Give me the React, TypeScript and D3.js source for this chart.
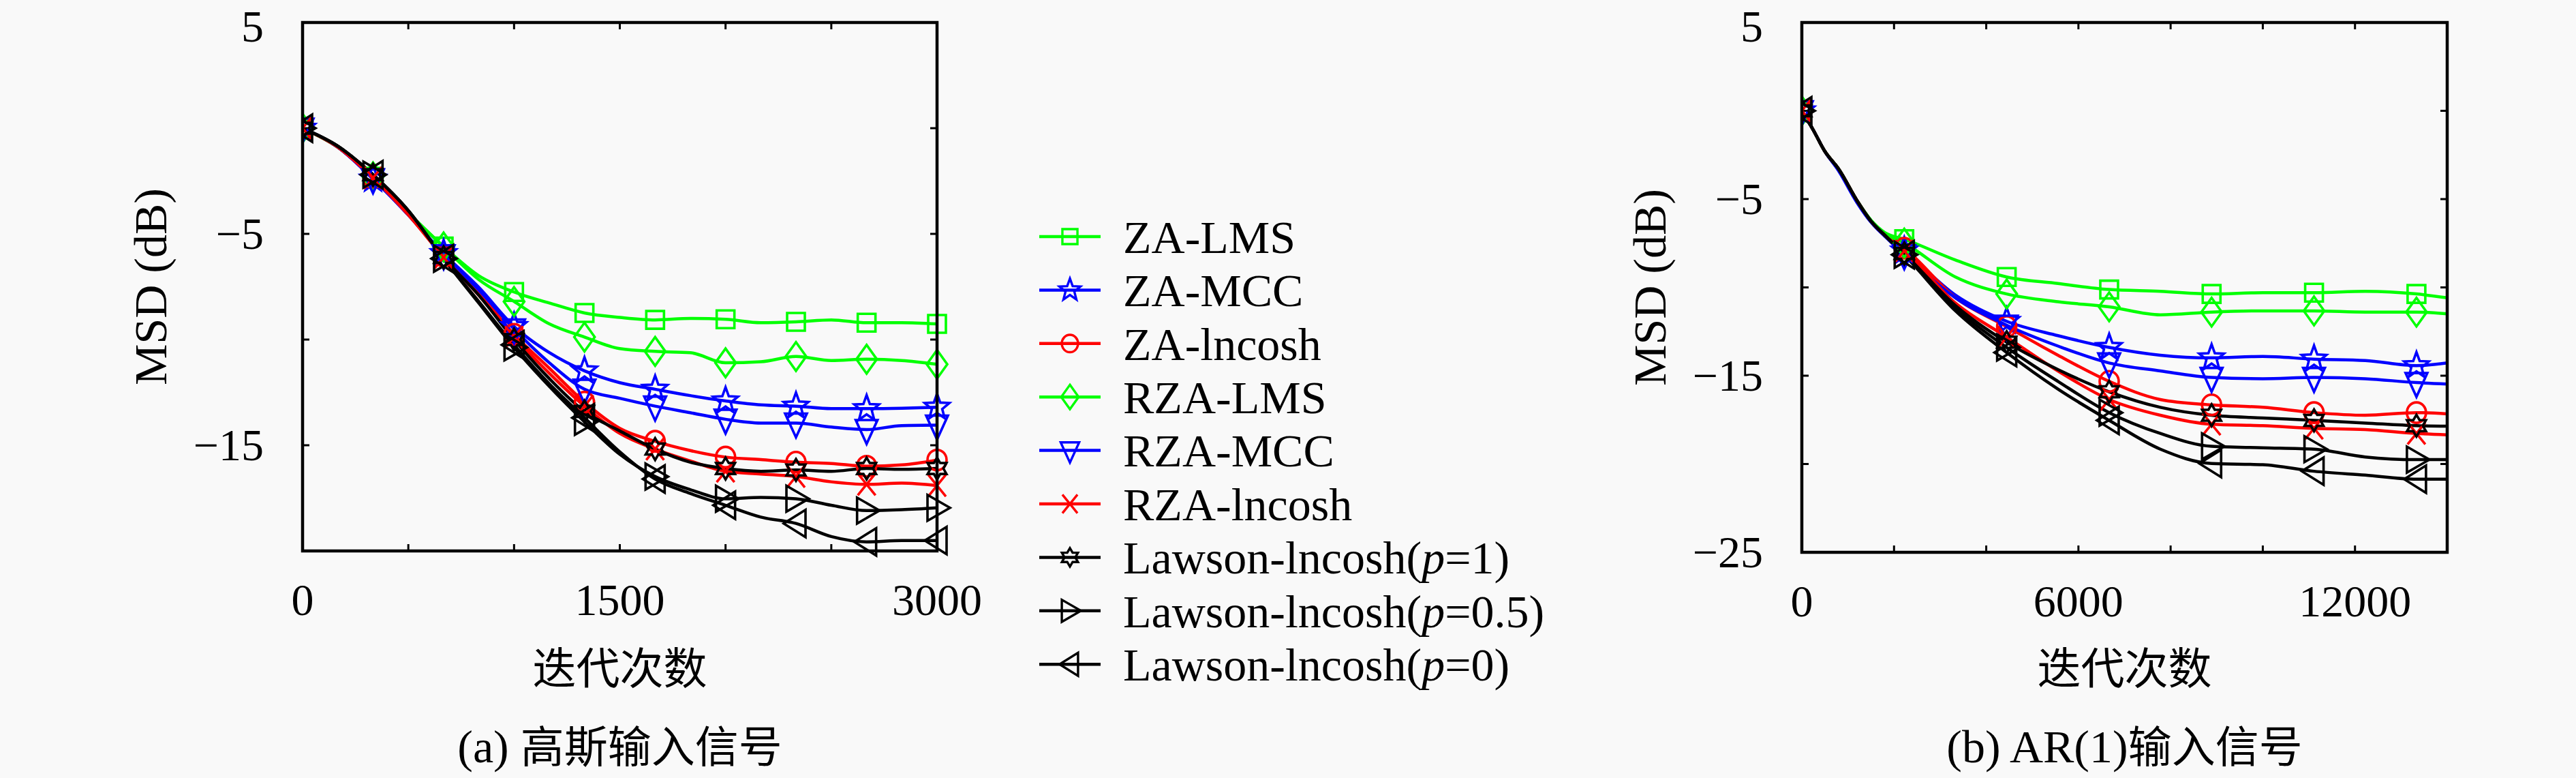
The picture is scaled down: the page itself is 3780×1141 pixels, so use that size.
import * as d3 from 'd3';

// ---- data ----
const seriesNames = [
  'ZA-LMS', 'ZA-MCC', 'ZA-lncosh', 'RZA-LMS', 'RZA-MCC', 'RZA-lncosh',
  'Lawson-lncosh(p=1)', 'Lawson-lncosh(p=0.5)', 'Lawson-lncosh(p=0)',
];
const seriesColors = ['#00ff00', '#0000ff', '#ff0000', '#00ff00', '#0000ff', '#ff0000', '#000000', '#000000', '#000000'];
const seriesMarkers = ['square', 'star', 'circle', 'diamond', 'triDown', 'cross', 'hexagram', 'triRight', 'triLeft'];

// (a) Gaussian input
const itersA = [0, 167, 333, 500, 667, 833, 1000, 1167, 1333, 1500, 1667, 1833, 2000, 2167, 2333, 2500, 2667, 2833, 3000];
const markersA = [0, 333, 667, 1000, 1333, 1667, 2000, 2333, 2667, 3000];
const zaLmsA = [0, -0.9, -2.3, -4.0, -5.6, -6.98, -7.75, -8.27, -8.74, -8.95, -9.07, -9.0, -9.04, -9.2, -9.16, -9.07, -9.2, -9.2, -9.26];
const zaMccA = [0, -0.9, -2.4, -4.1, -5.93, -7.53, -9.38, -10.62, -11.48, -12.04, -12.35, -12.65, -12.9, -13.09, -13.15, -13.27, -13.27, -13.25, -13.2];
const zaLncoshA = [0, -0.9, -2.35, -4.1, -6.05, -7.78, -9.75, -11.36, -12.96, -14.2, -14.81, -15.25, -15.56, -15.68, -15.8, -15.86, -15.99, -15.93, -15.7];
const rzaLmsA = [0, -0.9, -2.3, -4.0, -5.62, -7.16, -8.2, -9.26, -9.88, -10.43, -10.56, -10.62, -11.1, -11.05, -10.8, -10.99, -10.93, -10.99, -11.17];
const rzaMccA = [0, -0.9, -2.4, -4.1, -5.99, -7.65, -9.5, -11.1, -12.35, -12.78, -13.15, -13.46, -13.77, -13.95, -13.95, -14.14, -14.26, -14.07, -14.05];
const rzaLncoshA = [0, -0.9, -2.35, -4.1, -6.11, -7.9, -9.88, -11.6, -13.15, -14.44, -15.18, -15.74, -16.23, -16.36, -16.48, -16.73, -16.85, -16.79, -16.91];
const lawson1A = [0, -0.85, -2.2, -3.9, -6.11, -7.9, -10.0, -11.85, -13.4, -14.32, -15.18, -15.8, -16.1, -16.23, -16.17, -16.23, -16.1, -16.14, -16.1];
const lawson05A = [0, -0.85, -2.2, -3.9, -6.17, -8.27, -10.37, -12.22, -13.89, -15.43, -16.48, -17.1, -17.53, -17.47, -17.53, -17.84, -18.09, -18.05, -17.96];
const lawson0A = [0, -0.85, -2.2, -3.9, -6.17, -8.2, -10.25, -12.1, -13.7, -15.31, -16.6, -17.28, -17.84, -18.4, -18.7, -19.32, -19.57, -19.51, -19.51];

// (b) AR(1) input
const itersB = [0, 250, 500, 800, 1200, 1500, 1800, 2222, 3333, 4444, 5556, 6667, 7778, 8889, 10000, 11111, 12222, 13333, 14000];
const markersB = [0, 2222, 4444, 6667, 8889, 11111, 13333];
const zaLmsB = [0, -1.1, -2.3, -3.3, -5.1, -6.2, -6.9, -7.27, -8.45, -9.41, -9.78, -10.12, -10.22, -10.37, -10.3, -10.3, -10.22, -10.37, -10.59];
const zaMccB = [0, -1.1, -2.3, -3.4, -5.2, -6.3, -7.1, -7.93, -10.44, -11.92, -12.73, -13.4, -13.84, -13.99, -13.91, -14.06, -14.14, -14.43, -14.28];
const zaLncoshB = [0, -1.1, -2.3, -3.3, -5.1, -6.25, -7.05, -7.78, -10.59, -12.22, -13.84, -15.32, -16.35, -16.65, -16.79, -17.09, -17.24, -17.09, -17.16];
const rzaLmsB = [0, -1.1, -2.3, -3.3, -5.1, -6.2, -6.95, -7.49, -9.41, -10.37, -10.81, -11.1, -11.55, -11.4, -11.33, -11.33, -11.4, -11.4, -11.5];
const rzaMccB = [0, -1.1, -2.3, -3.4, -5.2, -6.3, -7.1, -8.15, -10.59, -12.14, -13.32, -14.28, -14.73, -15.1, -15.17, -15.1, -15.17, -15.39, -15.47];
const rzaLncoshB = [0, -1.1, -2.3, -3.3, -5.1, -6.25, -7.05, -7.93, -10.89, -12.81, -14.73, -16.35, -17.24, -17.75, -17.83, -17.98, -18.05, -18.27, -18.35];
const lawson1B = [0, -1.1, -2.3, -3.3, -5.1, -6.25, -7.05, -8.08, -11.03, -13.1, -14.65, -15.91, -16.79, -17.24, -17.39, -17.53, -17.68, -17.83, -17.86];
const lawson05B = [0, -1.1, -2.3, -3.3, -5.1, -6.25, -7.05, -8.15, -11.18, -13.4, -15.32, -17.09, -18.27, -19.0, -19.08, -19.16, -19.6, -19.75, -19.75];
const lawson0B = [0, -1.1, -2.3, -3.3, -5.1, -6.25, -7.05, -8.15, -11.33, -13.69, -15.76, -17.53, -19.16, -19.97, -20.04, -20.41, -20.63, -20.86, -20.86];

const xTicksA = [0, 500, 1000, 1500, 2000, 2500, 3000];
const xTickLabelsA = [0, 1500, 3000];
const yTicksA = [5, 0, -5, -10, -15, -20];
const yTickLabelsA = [5, -5, -15];
const xTicksB = [0, 2000, 4000, 6000, 8000, 10000, 12000, 14000];
const xTickLabelsB = [0, 6000, 12000];
const yTicksB = [5, 0, -5, -10, -15, -20, -25];
const yTickLabelsB = [5, -5, -15, -25];

const xLabel = '迭代次数';
const yLabel = 'MSD (dB)';

// ---- styling ----
const W = 3780;
const H = 1141;
const serif = '"Liberation Serif", "DejaVu Serif", serif';
const cjk = '"Noto Sans CJK SC", sans-serif';
const bg = '#f9f9f9';

const fmt = (v: number) => (v < 0 ? '\u2212' + Math.abs(v) : String(v));

// marker outlines, centred on 0,0
function markerPath(kind: string): string {
  switch (kind) {
    case 'square':
      return 'M-13,-13H13V13H-13Z';
    case 'circle':
      return 'M-14,0A14,15 0 1,0 14,0A14,15 0 1,0 -14,0Z';
    case 'diamond':
      return 'M0,-21L15,0L0,21L-15,0Z';
    case 'triDown':
      return 'M-16,-14L16,-14L0,21Z';
    case 'triRight':
      return 'M-14,-19L-14,19L19,0Z';
    case 'triLeft':
      return 'M14,-20L14,20L-18,0Z';
    case 'cross':
      return 'M-13,-16L13,16M-13,16L13,-16';
    case 'star': {
      const pts = d3.range(10).map(i => {
        const r = i % 2 === 0 ? 19 : 8;
        const a = -Math.PI / 2 + (i * Math.PI) / 5;
        return [r * Math.cos(a), r * Math.sin(a) * 1.05];
      });
      return 'M' + pts.map(p => p.join(',')).join('L') + 'Z';
    }
    case 'hexagram': {
      const pts = d3.range(12).map(i => {
        const r = i % 2 === 0 ? 16 : 9.3;
        const a = -Math.PI / 2 + (i * Math.PI) / 6;
        return [r * Math.cos(a), r * Math.sin(a)];
      });
      return 'M' + pts.map(p => p.join(',')).join('L') + 'Z';
    }
    default:
      return '';
  }
}

interface PanelProps {
  left: number;
  right: number;
  top: number;
  bottom: number;
  xMax: number;
  yMin: number;
  iters: number[];
  series: number[][];
  markers: number[];
  xTicks: number[];
  xTickLabels: number[];
  yTicks: number[];
  yTickLabels: number[];
  caption: string[]; // [latin part, cjk part]
}

const Panel = (p: PanelProps) => {
  const x = d3.scaleLinear().domain([0, p.xMax]).range([p.left, p.right]);
  const y = d3.scaleLinear().domain([p.yMin, 5]).range([p.bottom, p.top]);
  const line = d3.line<number>()
    .x((_, i) => x(p.iters[i]))
    .y(d => y(d))
    .curve(d3.curveMonotoneX);
  const tick = 10;
  const cx = (p.left + p.right) / 2;
  const cy = (p.top + p.bottom) / 2;

  return (
    <g>
      <defs>
        <clipPath id={`clip${p.left}`}>
          <rect x={p.left} y={p.top - 40} width={p.right - p.left + 40} height={p.bottom - p.top + 80} />
        </clipPath>
      </defs>
      {/* ticks, inward on all four sides */}
      {p.xTicks.map(t => (
        <g key={'xt' + t} stroke="#000" strokeWidth={3}>
          <line x1={x(t)} x2={x(t)} y1={p.bottom} y2={p.bottom - tick} />
          <line x1={x(t)} x2={x(t)} y1={p.top} y2={p.top + tick} />
        </g>
      ))}
      {p.yTicks.map(t => (
        <g key={'yt' + t} stroke="#000" strokeWidth={3}>
          <line x1={p.left} x2={p.left + tick} y1={y(t)} y2={y(t)} />
          <line x1={p.right} x2={p.right - tick} y1={y(t)} y2={y(t)} />
        </g>
      ))}
      {/* curves */}
      <g clipPath={`url(#clip${p.left})`}>
        {p.series.map((s, si) => (
          <path key={'l' + si} d={line(s) || ''} fill="none" stroke={seriesColors[si]}
            strokeWidth={4.5} strokeLinejoin="round" />
        ))}
        {p.series.map((s, si) =>
          p.markers.map(m => {
            const idx = p.iters.indexOf(m);
            return (
              <path key={'m' + si + '-' + m} d={markerPath(seriesMarkers[si])}
                transform={`translate(${x(m)},${y(s[idx])})`}
                fill="none" stroke={seriesColors[si]} strokeWidth={3.6} />
            );
          })
        )}
      </g>
      {/* frame */}
      <rect x={p.left} y={p.top} width={p.right - p.left} height={p.bottom - p.top}
        fill="none" stroke="#000" strokeWidth={4.5} />
      {/* tick labels */}
      {p.xTickLabels.map(t => (
        <text key={'xl' + t} x={x(t)} y={p.bottom + 94} textAnchor="middle"
          fontFamily={serif} fontSize={66}>{fmt(t)}</text>
      ))}
      {p.yTickLabels.map(t => (
        <text key={'yl' + t} x={p.left - 57} y={Math.max(y(t), p.top + 6)} dy="0.34em" textAnchor="end"
          fontFamily={serif} fontSize={66}>{fmt(t)}</text>
      ))}
      {/* axis titles */}
      <text transform={`translate(${p.left - 222},${cy}) rotate(-90)`} dy="0.33em"
        textAnchor="middle" fontFamily={serif} fontSize={68}>{yLabel}</text>
      <text x={cx} y={980} dy="0.36em" textAnchor="middle" fontFamily={cjk} fontSize={64}>{xLabel}</text>
      <text x={cx} y={1095} dy="0.36em" textAnchor="middle" fontSize={64}>
        <tspan fontFamily={serif} fontSize={68}>{p.caption[0]}</tspan>
        <tspan fontFamily={cjk}>{p.caption[1]}</tspan>
      </text>
    </g>
  );
};

const Legend = () => {
  const x0 = 1525;
  const x1 = 1615;
  const top = 347;
  const step = 78.4;
  return (
    <g>
      {seriesNames.map((name, i) => {
        const yy = top + i * step;
        const m = name.match(/^(.*\()p(=.*)$/);
        return (
          <g key={name}>
            <line x1={x0} x2={x1} y1={yy} y2={yy} stroke={seriesColors[i]} strokeWidth={4.5} />
            <path d={markerPath(seriesMarkers[i])} transform={`translate(${(x0 + x1) / 2},${yy}) scale(0.85)`}
              fill="none" stroke={seriesColors[i]} strokeWidth={4} />
            <text x={1648} y={yy} dy="0.35em" fontFamily={serif} fontSize={68}>
              {m ? (
                <>
                  {m[1]}
                  <tspan fontStyle="italic">p</tspan>
                  {m[2]}
                </>
              ) : name}
            </text>
          </g>
        );
      })}
    </g>
  );
};

export default function App() {
  return (
    <svg width={W} height={H} style={{ position: 'absolute', left: 0, top: 0, background: bg }}>
      <rect x={0} y={0} width={W} height={H} fill={bg} />
      <Panel left={444} right={1375} top={33} bottom={808} xMax={3000} yMin={-20}
        iters={itersA} markers={markersA}
        series={[zaLmsA, zaMccA, zaLncoshA, rzaLmsA, rzaMccA, rzaLncoshA, lawson1A, lawson05A, lawson0A]}
        xTicks={xTicksA} xTickLabels={xTickLabelsA} yTicks={yTicksA} yTickLabels={yTickLabelsA}
        caption={['(a) ', '高斯输入信号']} />
      <Panel left={2644} right={3591} top={33} bottom={810} xMax={14000} yMin={-25}
        iters={itersB} markers={markersB}
        series={[zaLmsB, zaMccB, zaLncoshB, rzaLmsB, rzaMccB, rzaLncoshB, lawson1B, lawson05B, lawson0B]}
        xTicks={xTicksB} xTickLabels={xTickLabelsB} yTicks={yTicksB} yTickLabels={yTickLabelsB}
        caption={['(b) AR(1)', '输入信号']} />
      <Legend />
    </svg>
  );
}
